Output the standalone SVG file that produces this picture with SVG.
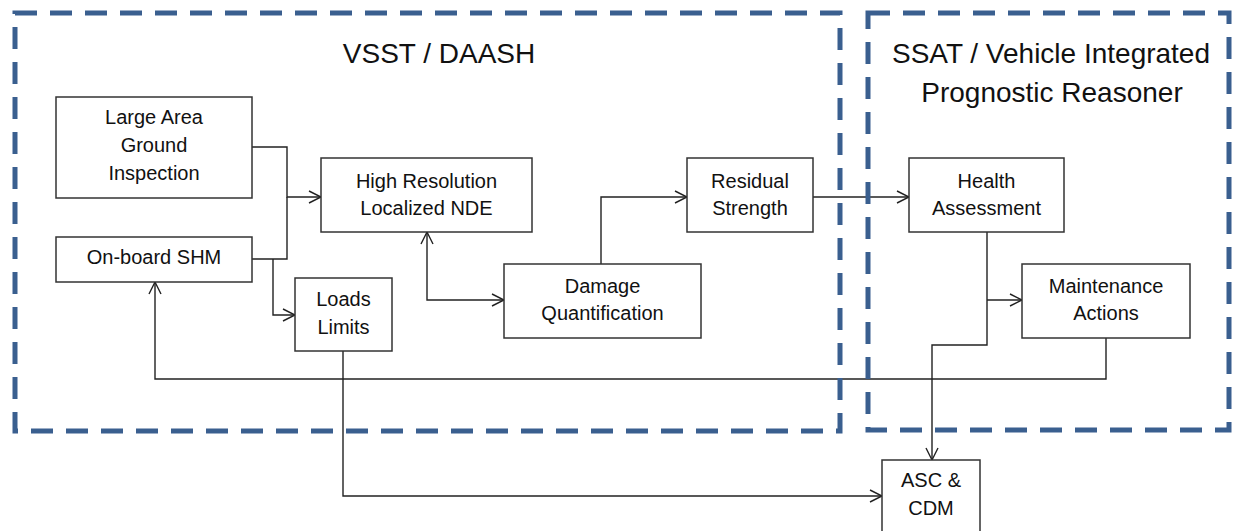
<svg xmlns="http://www.w3.org/2000/svg" width="1233" height="531" viewBox="0 0 1233 531">
<style>
.zone{fill:none;stroke:#3A5F8F;stroke-width:5;stroke-dasharray:22 13}
.box{fill:#fff;stroke:#333;stroke-width:1.5}
.t{font-family:"Liberation Sans",Arial,sans-serif;font-size:20px;fill:#111;text-anchor:middle}
.title{font-family:"Liberation Sans",Arial,sans-serif;font-size:28px;fill:#111;text-anchor:middle}
.c{fill:none;stroke:#222;stroke-width:1.4}
</style>
<defs>
<marker id="arr" markerUnits="userSpaceOnUse" markerWidth="16" markerHeight="16" viewBox="-14 -8 16 16" refX="0" refY="0" orient="auto-start-reverse">
<path d="M-12,-6 L0,0 L-12,6" fill="none" stroke="#222" stroke-width="1.4"/>
</marker>
</defs>
<rect width="1233" height="531" fill="#fff"/>
<g id="connectors">
<path class="c" d="M252,147 H287 V197 H321" marker-end="url(#arr)"/>
<path class="c" d="M252,259 H287 V197"/>
<path class="c" d="M273,259 V315 H295" marker-end="url(#arr)"/>
<path class="c" d="M427,232 V300 H504" marker-start="url(#arr)" marker-end="url(#arr)"/>
<path class="c" d="M601,264 V197 H687" marker-end="url(#arr)"/>
<path class="c" d="M813,197 H909" marker-end="url(#arr)"/>
<path class="c" d="M987,232 V345 H932 V460" marker-end="url(#arr)"/>
<path class="c" d="M987,300 H1022" marker-end="url(#arr)"/>
<path class="c" d="M1106,338 V379 H155 V282" marker-end="url(#arr)"/>
<path class="c" d="M343,351 V496 H882" marker-end="url(#arr)"/>
</g>
<g id="zones">
<rect class="zone" x="15" y="13" width="825" height="418"/>
<rect class="zone" x="868" y="13" width="361" height="417"/>
<text class="title" x="439" y="63" font-size="27">VSST / DAASH</text>
<text class="title" x="1051" y="63">SSAT / Vehicle Integrated</text>
<text class="title" x="1052" y="102">Prognostic Reasoner</text>
</g>
<g id="large-area">
<rect class="box" x="56" y="97" width="196" height="101"/>
<text class="t" x="154" y="124">Large Area</text>
<text class="t" x="154" y="152">Ground</text>
<text class="t" x="154" y="180">Inspection</text>
</g>
<g id="onboard-shm">
<rect class="box" x="56" y="237" width="196" height="45"/>
<text class="t" x="154" y="264">On-board SHM</text>
</g>
<g id="hires-nde">
<rect class="box" x="321" y="158" width="211" height="74"/>
<text class="t" x="426.5" y="188">High Resolution</text>
<text class="t" x="426.5" y="215">Localized NDE</text>
</g>
<g id="loads-limits">
<rect class="box" x="295" y="278" width="97" height="73"/>
<text class="t" x="343.5" y="306">Loads</text>
<text class="t" x="343.5" y="334">Limits</text>
</g>
<g id="damage-q">
<rect class="box" x="504" y="264" width="197" height="74"/>
<text class="t" x="602.5" y="293">Damage</text>
<text class="t" x="602.5" y="320">Quantification</text>
</g>
<g id="residual">
<rect class="box" x="687" y="158" width="126" height="74"/>
<text class="t" x="750" y="188">Residual</text>
<text class="t" x="750" y="215">Strength</text>
</g>
<g id="health">
<rect class="box" x="909" y="158" width="155" height="74"/>
<text class="t" x="986.5" y="188">Health</text>
<text class="t" x="986.5" y="215">Assessment</text>
</g>
<g id="maintenance">
<rect class="box" x="1022" y="264" width="168" height="74"/>
<text class="t" x="1106" y="293">Maintenance</text>
<text class="t" x="1106" y="320">Actions</text>
</g>
<g id="asc-cdm">
<rect class="box" x="882" y="460" width="98" height="80"/>
<text class="t" x="931" y="487">ASC &amp;</text>
<text class="t" x="931" y="515">CDM</text>
</g>
</svg>
